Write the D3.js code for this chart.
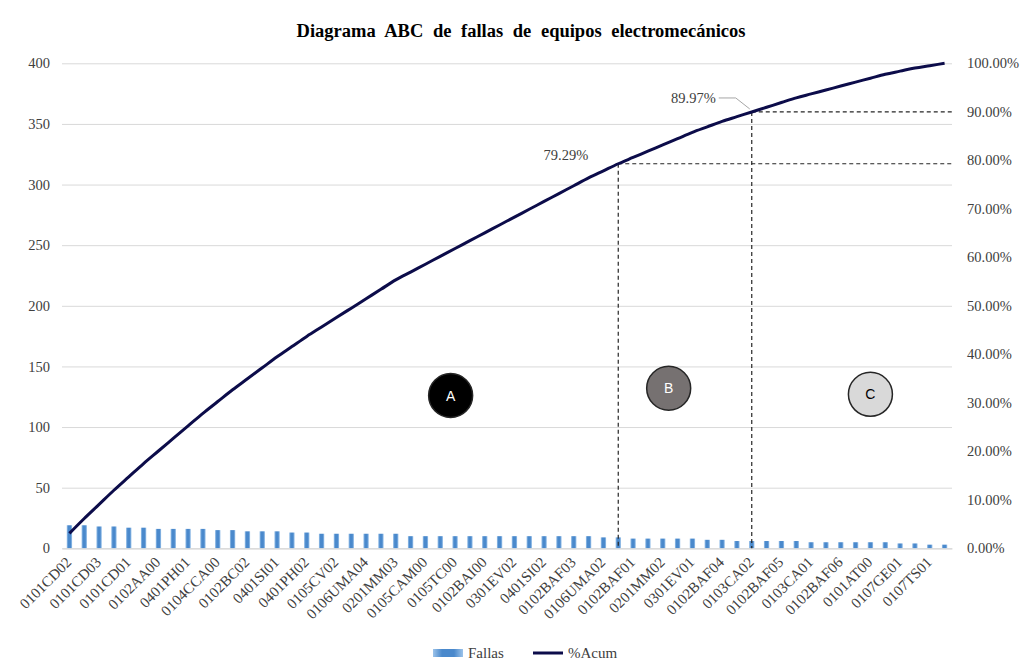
<!DOCTYPE html>
<html><head><meta charset="utf-8">
<script src="https://cdn.jsdelivr.net/npm/d3@7"></script>
<style>
html,body{margin:0;padding:0;background:#fff;}
svg{display:block;font-family:"Liberation Serif","Times New Roman",serif;}
</style></head>
<body>
<svg id="chart" width="1027" height="671"></svg>
<script>
const categories = ["0101CD02","0101CD04","0101CD03","0102AA01","0101CD01","0102AA02","0102AA00","0401PH03","0401PH01","0104CCA01",
"0104CCA00","0102BC01","0102BC02","0401SI03","0401SI01","0401PH04","0401PH02","0105CV01","0105CV02","0106UMA03",
"0106UMA04","0201MM01","0201MM03","0105CAM01","0105CAM00","0105TC01","0105TC00","0102BAI01","0102BAI00","0301EV03",
"0301EV02","0401SI04","0401SI02","0102BAF02","0102BAF03","0106UMA01","0106UMA02","0102BAF07","0102BAF01","0201MM04",
"0201MM02","0301EV04","0301EV01","0102BAF08","0102BAF04","0103CA03","0103CA02","0102BAF09","0102BAF05","0103CA04",
"0103CA01","0102BAF10","0102BAF06","0101AT01","0101AT00","0107GE02","0107GE01","0107TS02","0107TS01","0107TS03"];
const fallas = [19,19,18,18,17,17,16,16,16,16,
15,15,14,14,14,13,13,12,12,12,
12,12,12,10,10,10,10,10,10,10,
10,10,10,10,10,10,9,9,8,8,
8,8,8,7,7,6,6,6,6,6,
5,5,5,5,5,5,4,4,3,3];
const leftTicks = [0,50,100,150,200,250,300,350,400];
const rightTicks = [0,0.1,0.2,0.3,0.4,0.5,0.6,0.7,0.8,0.9,1.0];
const cutA = "0102BAF07", cutB = "0103CA02";
const cutLabels = ["79.29%","89.97%"];
const zones = [{name:"A", cat:"0105CAM00", off:1.7, v:126, fill:"#000000", text:"#ffffff"},
               {name:"B", cat:"0201MM02", off:0.4, v:132, fill:"#767171", text:"#ffffff"},
               {name:"C", cat:"0101AT00", off:0.0, v:127, fill:"#d9d9d9", text:"#000000"}];
const title = "Diagrama ABC de fallas de equipos electromecánicos";

const total = d3.sum(fallas);
let run = 0;
const acum = fallas.map(v => (run += v) / total);

const svg = d3.select("#chart");
const L = 62, R = 952, T = 63.3, B = 548.3;
const x = d3.scaleBand().domain(categories).range([L, R]).paddingInner(0.64).paddingOuter(0.32);
const y = d3.scaleLinear().domain([0, 400]).range([B, T]);
const y2 = d3.scaleLinear().domain([0, 1]).range([B, T]);
const cx = c => x(c) + x.bandwidth() / 2;
const step = x.step();

const defs = svg.append("defs");
const g = defs.append("linearGradient").attr("id","barg").attr("x1","0").attr("x2","1").attr("y1","0").attr("y2","0");
g.append("stop").attr("offset","0%").attr("stop-color","#9cc3ea");
g.append("stop").attr("offset","30%").attr("stop-color","#4a89cc");
g.append("stop").attr("offset","70%").attr("stop-color","#4a89cc");
g.append("stop").attr("offset","100%").attr("stop-color","#9cc3ea");

// title
svg.append("text").attr("x", 521).attr("y", 37).attr("text-anchor","middle")
  .attr("font-weight","bold").attr("font-size", 18.5).attr("word-spacing", 5).attr("fill","#000").text(title);

// gridlines
svg.append("g").call(d3.axisLeft(y).tickValues(leftTicks).tickSize(-(R - L)).tickFormat(""))
  .attr("transform", `translate(${L},0)`)
  .call(a => a.select(".domain").remove())
  .call(a => a.selectAll("line").attr("stroke","#d9d9d9").attr("stroke-width",1));

// left axis labels
svg.append("g").attr("transform", `translate(${L},0)`)
  .call(d3.axisLeft(y).tickValues(leftTicks).tickSize(0).tickPadding(12))
  .call(a => a.select(".domain").remove())
  .call(a => a.selectAll("text").attr("font-family","Liberation Serif").attr("font-size",14.5).attr("fill","#404040"));

// right axis labels
svg.append("g").attr("transform", `translate(${R},0)`)
  .call(d3.axisRight(y2).tickValues(rightTicks).tickSize(0).tickPadding(15).tickFormat(d => (d*100).toFixed(2) + "%"))
  .call(a => a.select(".domain").remove())
  .call(a => a.selectAll("text").attr("font-family","Liberation Serif").attr("font-size",14.5).attr("fill","#404040"));

// bars
svg.append("g").selectAll("rect").data(categories).join("rect")
  .attr("x", c => x(c)).attr("width", x.bandwidth())
  .attr("y", (c,i) => y(fallas[i])).attr("height", (c,i) => B - y(fallas[i]))
  .attr("fill","url(#barg)");

// x axis
const xa = svg.append("g").attr("transform", `translate(0,${B})`)
  .call(d3.axisBottom(x).tickSize(0).tickFormat((c,i) => i % 2 === 0 ? c : ""));
xa.select(".domain").attr("stroke","#d9d9d9").attr("stroke-width",1.2);
xa.selectAll("text").attr("font-family","Liberation Serif").attr("font-size",15).attr("fill","#404040")
  .attr("text-anchor","end").attr("dy",0).attr("y",0)
  .attr("transform","translate(3,15) rotate(-45)");

// cut lines
[cutA, cutB].forEach((c, k) => {
  const i = categories.indexOf(c);
  const px = cx(c), py = y2(acum[i]);
  svg.append("line").attr("x1", px).attr("x2", px).attr("y1", py).attr("y2", B)
    .attr("stroke","#262626").attr("stroke-width",1.2).attr("stroke-dasharray","4,3");
  svg.append("line").attr("x1", px).attr("x2", R).attr("y1", py).attr("y2", py)
    .attr("stroke","#262626").attr("stroke-width",1.2).attr("stroke-dasharray","4,3");
  if (k === 0) {
    svg.append("text").attr("x", px - 30).attr("y", py - 4).attr("text-anchor","end")
      .attr("font-size",14.5).attr("fill","#404040").text(cutLabels[k]);
  } else {
    svg.append("text").attr("x", px - 36).attr("y", py - 9).attr("text-anchor","end")
      .attr("font-size",14.5).attr("fill","#404040").text(cutLabels[k]);
    svg.append("polyline").attr("points", `${px-33},${py-14} ${px-16},${py-14} ${px-2},${py-3}`)
      .attr("fill","none").attr("stroke","#a6a6a6").attr("stroke-width",1);
  }
});

// cumulative line
const line = d3.line().x((c) => cx(c)).y((c,i) => y2(acum[i])).curve(d3.curveMonotoneX);
svg.append("path").datum(categories).attr("d", line)
  .attr("fill","none").attr("stroke","#0c0c4a").attr("stroke-width",3).attr("stroke-linejoin","round");

// zone circles
zones.forEach(z => {
  const zx = cx(z.cat) + z.off * step, zy = y(z.v);
  svg.append("circle").attr("cx", zx).attr("cy", zy).attr("r", 22)
    .attr("fill", z.fill).attr("stroke","#262626").attr("stroke-width",1.5);
  svg.append("text").attr("x", zx).attr("y", zy).attr("dy","0.36em").attr("text-anchor","middle")
    .attr("font-family","Liberation Sans, Arial, sans-serif").attr("font-size",14).attr("fill", z.text).text(z.name);
});

// legend
const lg = svg.append("g");
lg.append("rect").attr("x",433).attr("y",649).attr("width",30).attr("height",8).attr("fill","url(#barg)");
lg.append("text").attr("x",468).attr("y",658).attr("font-size",15).attr("fill","#404040").text("Fallas");
lg.append("line").attr("x1",533).attr("x2",563).attr("y1",653).attr("y2",653).attr("stroke","#0c0c4a").attr("stroke-width",3);
lg.append("text").attr("x",568).attr("y",658).attr("font-size",15).attr("fill","#404040").text("%Acum");
</script>
</body></html>
